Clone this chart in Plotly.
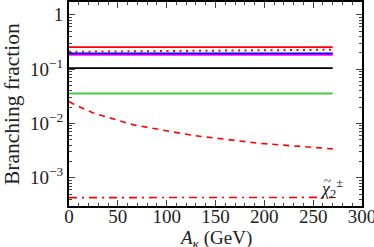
import plotly.graph_objects as go

A_flat = [0, 270]
red_solid = [0.254, 0.254]
red_dot_x = [0, 90, 180, 270]
red_dot = [0.208, 0.214, 0.221, 0.227]
blue = [0.194, 0.194]
magenta = [0.183, 0.183]
black = [0.104, 0.104]
green = [0.0356, 0.0356]
dash_x = [0, 4, 25, 66, 127, 195, 270]
red_dash = [0.0253, 0.023, 0.0155, 0.0094, 0.006, 0.0043, 0.0034]
dashdot_x = [0, 270]
red_dashdot = [4.3e-4, 4.35e-4]

ytick_vals = [1e-3, 1e-2, 1e-1, 1]
ytick_text = ["10<sup>−3</sup>", "10<sup>−2</sup>", "10<sup>−1</sup>", "1"]
xtick_vals = [0, 50, 100, 150, 200, 250, 300]

FONT = "Liberation Serif"
TXT = "#222"
fig = go.Figure()
def add(x, y, color, dash="solid", width=1.6):
    fig.add_trace(go.Scatter(x=x, y=y, mode="lines",
                             line=dict(color=color, dash=dash, width=width),
                             showlegend=False, hoverinfo="skip"))

add(A_flat, black, "black")
add(A_flat, green, "#44cc44", width=2)
add(A_flat, magenta, "#ff00ff", width=2)
add(A_flat, blue, "#0000ff", width=1.8)
add(A_flat, red_solid, "#ff0000")
add(red_dot_x, red_dot, "#ff0000", dash="2px,4.5px", width=2)
add(dash_x, red_dash, "#ff0000", dash="6px,5px", width=1.6)
add(dashdot_x, red_dashdot, "#ff0000", dash="8px,5px,2px,5px", width=1.6)

minor_y = [m * 10.0**e for e in range(-4, 1) for m in range(2, 10)]

fig.update_xaxes(range=[0, 300], tickvals=xtick_vals, ticks="inside", ticklen=6,
                 tickwidth=1.2, mirror="allticks", showline=True, linecolor="black",
                 linewidth=2, showgrid=False, zeroline=False, automargin=False,
                 ticklabelstandoff=-8, ticklabeloverflow="allow",
                 minor=dict(dtick=10, tick0=0, ticks="inside", ticklen=3, tickwidth=1, showgrid=False),
                 tickfont=dict(family=FONT, size=19, color=TXT))
fig.update_yaxes(type="log", range=[-3.52, 0.235], tickvals=ytick_vals, ticktext=ytick_text,
                 ticks="inside", ticklen=6, tickwidth=1.2, mirror="allticks", showline=True,
                 linecolor="black", linewidth=2, showgrid=False, zeroline=False, automargin=False,
                 minor=dict(tickvals=minor_y, ticks="inside", ticklen=3, tickwidth=1, showgrid=False),
                 tickfont=dict(family=FONT, size=19, color=TXT))

fig.add_annotation(x=0.5, y=0, xref="paper", yref="paper", xanchor="center", yanchor="top",
                   yshift=-19, xshift=0, showarrow=False,
                   text="<i>A<sub>κ</sub></i> (GeV)", font=dict(family=FONT, size=19, color=TXT))
fig.add_annotation(x=-69/293, y=0.5, xref="paper", yref="paper", xanchor="left", yanchor="middle",
                   xshift=-2, textangle=-90, showarrow=False,
                   text="Branching fraction", font=dict(family=FONT, size=21.5, color=TXT))
fig.add_annotation(x=269, y=-3.2, xref="x", yref="y", xanchor="center", yanchor="middle",
                   text="<i>χ</i><sub>2</sub><sup>±</sup>", showarrow=False,
                   font=dict(family=FONT, size=18, color=TXT))
fig.add_annotation(x=269, y=-3.2, xref="x", yref="y", xanchor="center", yanchor="middle",
                   xshift=-4, yshift=8, text="~", showarrow=False,
                   font=dict(family=FONT, size=13, color=TXT))

fig.update_layout(width=374, height=247, margin=dict(l=69, r=12, t=2, b=41),
                  plot_bgcolor="white", paper_bgcolor="white", hovermode=False)
fig.write_html("out.html", config={"displayModeBar": False},
               post_script="document.body.style.margin='0px';document.body.style.padding='0px';")
